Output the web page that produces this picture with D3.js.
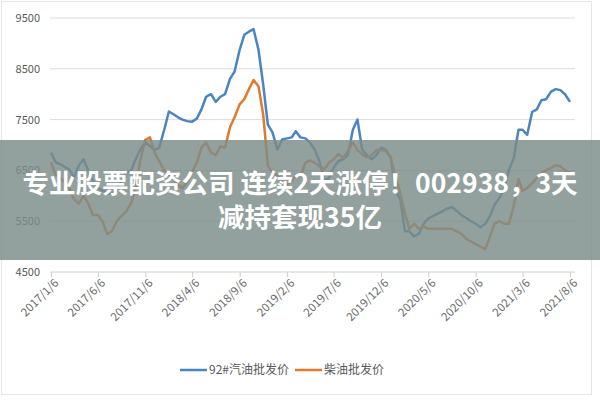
<!DOCTYPE html>
<html><head><meta charset="utf-8">
<script src="https://cdn.jsdelivr.net/npm/d3@7"></script>
<style>body{margin:0;background:#fff}svg{display:block}</style>
</head><body><svg width="600" height="400"></svg>
<script>
const dates = ["2017/1/6","2017/1/21","2017/2/6","2017/2/21","2017/3/6","2017/3/21","2017/4/6","2017/4/21","2017/5/6","2017/5/21","2017/6/6","2017/6/21","2017/7/6","2017/7/21","2017/8/6","2017/8/21","2017/9/6","2017/9/21","2017/10/6","2017/10/21","2017/11/6","2017/11/21","2017/12/6","2017/12/21",
"2018/1/6","2018/1/21","2018/2/6","2018/2/21","2018/3/6","2018/3/21","2018/4/6","2018/4/21","2018/5/6","2018/5/21","2018/6/6","2018/6/21","2018/7/6","2018/7/21","2018/8/6","2018/8/21","2018/9/6","2018/9/21","2018/10/6","2018/10/21","2018/11/6","2018/11/21","2018/12/6","2018/12/21",
"2019/1/6","2019/1/21","2019/2/6","2019/2/21","2019/3/6","2019/3/21","2019/4/6","2019/4/21","2019/5/6","2019/5/21","2019/6/6","2019/6/21","2019/7/6","2019/7/21","2019/8/6","2019/8/21","2019/9/6","2019/9/21","2019/10/6","2019/10/21","2019/11/6","2019/11/21","2019/12/6","2019/12/21",
"2020/1/6","2020/1/21","2020/2/6","2020/2/21","2020/3/6","2020/3/21","2020/4/6","2020/4/21","2020/5/6","2020/5/21","2020/6/6","2020/6/21","2020/7/6","2020/7/21","2020/8/6","2020/8/21","2020/9/6","2020/9/21","2020/10/6","2020/10/21","2020/11/6","2020/11/21","2020/12/6","2020/12/21",
"2021/1/6","2021/1/21","2021/2/6","2021/2/21","2021/3/6","2021/3/21","2021/4/6","2021/4/21","2021/5/6","2021/5/21","2021/6/6","2021/6/21","2021/7/6","2021/7/21","2021/8/6"];
const gasoline = [6850,6660,6620,6560,6520,6360,6600,6720,6500,6300,6150,6100,6060,6030,6150,6300,6450,6500,6720,6910,7050,6980,6900,6950,7300,7660,7600,7540,7500,7470,7460,7520,7700,7950,8000,7850,7950,8000,8300,8450,8870,9170,9230,9280,8870,8190,7400,7250,6910,7110,7130,7150,7270,7150,7130,7050,6910,6680,6300,6350,6550,6680,6720,6800,7300,7500,6910,6800,6720,6800,6950,6910,6760,6100,5930,5300,5300,5200,5250,5450,5550,5600,5650,5700,5750,5780,5700,5620,5560,5500,5450,5380,5450,5600,5830,5950,6150,6500,6750,7300,7300,7200,7650,7700,7880,7900,8050,8100,8080,8000,7850];
const diesel = [6660,6420,6350,6250,6150,5930,5850,6000,5850,5620,5620,5500,5250,5300,5500,5600,5700,5850,6150,6700,7100,7150,6850,6680,6500,6420,6320,6200,6150,6280,6470,6650,6950,7050,6850,6800,6970,6950,7350,7550,7800,7900,8100,8280,8150,7600,6600,6450,6400,6280,6220,6300,6400,6380,6650,6700,6650,6580,6520,6650,6720,6820,6750,6880,7050,6900,6820,6760,6800,6900,6900,6880,6750,6400,6050,5650,5350,5450,5350,5400,5350,5350,5350,5350,5350,5350,5300,5250,5150,5100,5050,5000,4950,5200,5450,5500,5450,5450,5800,6330,6100,6150,6250,6350,6450,6500,6550,6600,6580,6500,6450];
const tickLabels = ["2017/1/6","2017/6/6","2017/11/6","2018/4/6","2018/9/6","2019/2/6","2019/7/6","2019/12/6","2020/5/6","2020/10/6","2021/3/6","2021/8/6"];
const yTicks = [4500,5500,6500,7500,8500,9500];
const seriesNames = ["92#汽油批发价","柴油批发价"];
const colors = ["#4a84c2","#e07a2e"];
const title1 = "专业股票配资公司 连续2天涨停！002938，3天";
const title2 = "减持套现35亿";

const parse = d3.timeParse("%Y/%-m/%-d");
const svg = d3.select("svg");
const font = "'Microsoft YaHei','Noto Sans CJK SC',sans-serif";
svg.append("rect").attr("x",1.5).attr("y",1.5).attr("width",590).attr("height",393).attr("fill","#fff").attr("stroke","#e6e6e6");
const x = d3.scaleTime().domain([parse(dates[0]),parse(dates[dates.length-1])]).range([51,570]);
const y = d3.scaleLinear().domain([4500,9500]).range([272,18]);

svg.append("g").selectAll("line").data(yTicks.slice(1)).join("line")
  .attr("x1",50).attr("x2",575).attr("y1",d=>y(d)).attr("y2",d=>y(d)).attr("stroke","#dcdcdc").attr("stroke-width",1);
const ya = svg.append("g").attr("transform","translate(50,0)").call(d3.axisLeft(y).tickValues(yTicks).tickSize(0).tickPadding(10).tickFormat(d3.format("d")));
ya.select(".domain").remove();
ya.selectAll("text").attr("font-family",font).attr("font-size",11).attr("fill","#595959");

const xa = svg.append("g").attr("transform",`translate(0,${y(4500)})`)
  .call(d3.axisBottom(x).tickValues(tickLabels.map(parse)).tickSize(5).tickFormat(d3.timeFormat("%Y/%-m/%-d")));
xa.select(".domain").attr("stroke","#d0d0d0").attr("d","M50,0H575");
xa.selectAll(".tick line").attr("stroke","#d0d0d0");
xa.selectAll("text").attr("font-family",font).attr("font-size",11.5).attr("fill","#6a6a6a")
  .attr("text-anchor","end").attr("transform","translate(2,6) rotate(-45)").attr("dy","0.35em").attr("y",4);

const line = d3.line().x((d,i)=>x(parse(dates[i]))).y(d=>y(d));
[gasoline,diesel].forEach((s,i)=>{
  svg.append("path").datum(s).attr("d",line).attr("fill","none").attr("stroke",colors[i]).attr("stroke-width",2.5).attr("stroke-linejoin","round");
});

const lg = svg.append("g").attr("transform","translate(180,370)");
const lx = [0,115];
seriesNames.forEach((n,i)=>{
  lg.append("line").attr("x1",lx[i]).attr("x2",lx[i]+27).attr("y1",0).attr("y2",0).attr("stroke",colors[i]).attr("stroke-width",2.5);
  lg.append("text").attr("x",lx[i]+29).attr("y",0).attr("dy","0.35em").text(n).attr("font-family",font).attr("font-size",12).attr("fill","#595959");
});

svg.append("rect").attr("x",0).attr("y",140).attr("width",600).attr("height",120).attr("fill","#7b8c89").attr("opacity",0.82);
svg.append("text").attr("x",300).attr("y",193).attr("text-anchor","middle").text(title1).attr("font-family",font).attr("font-weight","bold").attr("font-size",26.5).attr("fill","#fff");
svg.append("text").attr("x",300).attr("y",227).attr("text-anchor","middle").text(title2).attr("font-family",font).attr("font-weight","bold").attr("font-size",26.5).attr("fill","#fff");
</script></body></html>
